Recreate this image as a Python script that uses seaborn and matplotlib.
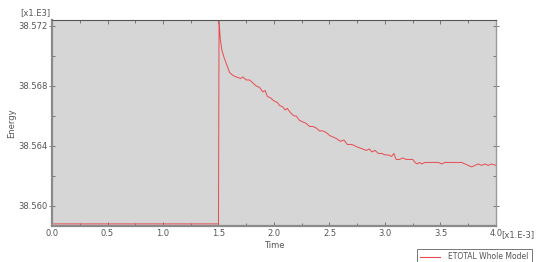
import numpy as np
import pandas as pd
import matplotlib
matplotlib.use('Agg')
import matplotlib.pyplot as plt
from matplotlib.ticker import MultipleLocator, FormatStrFormatter
import seaborn as sns

# Energy history (time in x1.E-3, energy in x1.E3)
time = [0.0, 0.5, 1.0, 1.5, 1.505, 1.515, 1.53, 1.55, 1.57, 1.60, 1.63, 1.66,
        1.70, 1.72, 1.75, 1.78, 1.81, 1.84, 1.87, 1.90, 1.92, 1.94, 1.97, 2.00,
        2.03, 2.05, 2.08, 2.10, 2.12, 2.15, 2.18, 2.20, 2.23, 2.26, 2.29, 2.32,
        2.35, 2.38, 2.41, 2.44, 2.47, 2.50, 2.53, 2.56, 2.60, 2.63, 2.66, 2.70,
        2.73, 2.76, 2.80, 2.83, 2.86, 2.88, 2.91, 2.94, 2.97, 3.00, 3.03, 3.06,
        3.08, 3.10, 3.13, 3.16, 3.19, 3.22, 3.25, 3.27, 3.29, 3.31, 3.33, 3.36,
        3.39, 3.42, 3.45, 3.48, 3.51, 3.54, 3.57, 3.60, 3.63, 3.66, 3.69, 3.72,
        3.75, 3.78, 3.81, 3.84, 3.87, 3.90, 3.93, 3.96, 4.00]
energy = [38.5588, 38.5588, 38.5588, 38.5588, 38.5724, 38.5712, 38.5704, 38.5699,
          38.5695, 38.5689, 38.5687, 38.5686, 38.5685, 38.5686, 38.5684, 38.5684,
          38.5682, 38.5680, 38.5679, 38.5676, 38.5677, 38.5673, 38.5672, 38.5670,
          38.5669, 38.5667, 38.5666, 38.5664, 38.5665, 38.5662, 38.5660, 38.5660,
          38.5657, 38.5656, 38.5655, 38.5653, 38.5653, 38.5652, 38.5650, 38.5650,
          38.5649, 38.5647, 38.5646, 38.5645, 38.5643, 38.5644, 38.5641, 38.5641,
          38.5640, 38.5639, 38.5638, 38.5637, 38.5638, 38.5636, 38.5637, 38.5635,
          38.5635, 38.5634, 38.5634, 38.5633, 38.5635, 38.5631, 38.5631, 38.5632,
          38.5631, 38.5631, 38.5631, 38.5629, 38.5628, 38.5629, 38.5628, 38.5629,
          38.5629, 38.5629, 38.5629, 38.5629, 38.5628, 38.5629, 38.5629, 38.5629,
          38.5629, 38.5629, 38.5629, 38.5628, 38.5627, 38.5626, 38.5627, 38.5628,
          38.5627, 38.5628, 38.5627, 38.5628, 38.5627]
series_name = 'ETOTAL Whole Model'

df = pd.DataFrame({'Time': time, 'Energy': energy, 'series': series_name})

txt = '#555555'
line_col = '#e84a4e'
plt.rcParams['font.family'] = ['DejaVu Sans']
plt.rcParams['font.size'] = 6

fig = plt.figure(figsize=(5.4, 2.62), dpi=100)
ax = fig.add_axes([0.0963, 0.1374, 0.8222, 0.7863])
ax.set_facecolor('#d6d6d6')

sns.lineplot(data=df, x='Time', y='Energy', hue='series', palette=[line_col],
             linewidth=0.7, ax=ax, legend=False, estimator=None, sort=False)

ax.set_xlim(0, 4.0)
ax.set_ylim(38.55866, 38.5724)
ax.xaxis.set_major_locator(MultipleLocator(0.5))
ax.xaxis.set_minor_locator(MultipleLocator(0.25))
ax.yaxis.set_major_locator(MultipleLocator(0.004))
ax.yaxis.set_minor_locator(MultipleLocator(0.002))
ax.xaxis.set_major_formatter(FormatStrFormatter('%.1f'))
ax.yaxis.set_major_formatter(FormatStrFormatter('%.3f'))
ax.tick_params(which='both', direction='in', top=True, right=True, colors='#666666',
               labelcolor=txt, labelsize=6, width=0.6)
ax.tick_params(which='major', length=3, pad=2)
ax.tick_params(which='minor', length=2)
ax.tick_params(axis='y', which='major', direction='inout', length=4, pad=1)

for side in ['left', 'bottom']:
    ax.spines[side].set_color('#8a8a8a')
    ax.spines[side].set_linewidth(1.6)
ax.spines['top'].set_color('#555555')
ax.spines['top'].set_linewidth(0.8)
ax.spines['right'].set_color('#999999')
ax.spines['right'].set_linewidth(1.0)

ax.set_xlabel('Time', color=txt, fontsize=6)
ax.xaxis.set_label_coords(0.5, -0.075)
ax.set_ylabel('Energy', color=txt, fontsize=6)
ax.yaxis.set_label_coords(-0.081, 0.5)
ax.text(-0.004, 1.012, '[x1.E3]', transform=ax.transAxes, ha='right', va='bottom',
        color=txt, fontsize=6)
ax.text(1.012, -0.022, '[x1.E-3]', transform=ax.transAxes, ha='left', va='top',
        color=txt, fontsize=6)

handle = plt.Line2D([], [], color=line_col, linewidth=0.8)
leg = fig.legend([handle], [series_name], loc='upper left',
                 bbox_to_anchor=(0.772, 0.05), borderaxespad=0, frameon=True,
                 fancybox=False, fontsize=5.5, handlelength=2.6,
                 handletextpad=1.0, borderpad=0.45, labelcolor=txt)
leg.get_frame().set_edgecolor('#555555')
leg.get_frame().set_linewidth(0.7)

fig.savefig('out.png', dpi=100)
